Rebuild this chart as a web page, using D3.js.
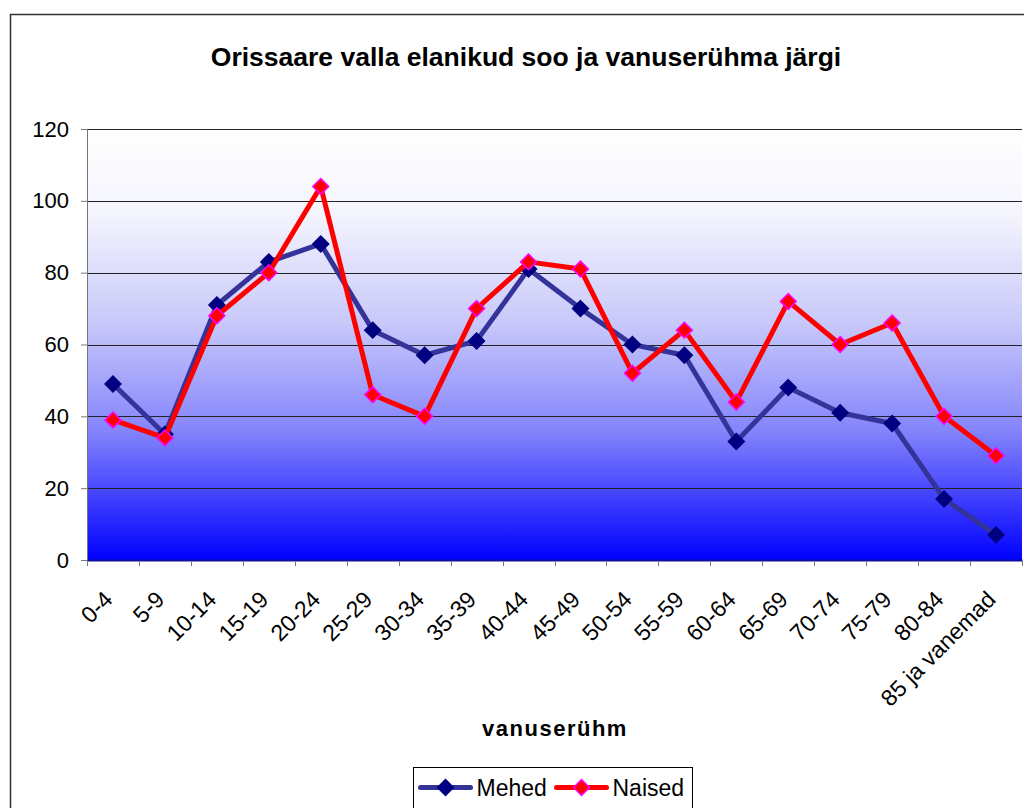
<!DOCTYPE html>
<html lang="et">
<head>
  <meta charset="UTF-8">
  <title>Orissaare valla elanikud soo ja vanuserühma järgi</title>
  <script src="https://d3js.org/d3.v7.min.js"></script>
  <style>
    body {
      margin: 0;
      background: #fff;
      font-family: "Liberation Sans", Arial, sans-serif;
    }
    svg { display: block; }
  </style>
</head>
<body>
<svg width="1024" height="808"></svg>
<script>
const ageGroups = ["0-4", "5-9", "10-14", "15-19", "20-24", "25-29", "30-34", "35-39", "40-44",
                   "45-49", "50-54", "55-59", "60-64", "65-69", "70-74", "75-79", "80-84", "85 ja vanemad"];
const mehed  = [49, 35, 71, 83, 88, 64, 57, 61, 81, 70, 60, 57, 33, 48, 41, 38, 17, 7];
const naised = [39, 34, 68, 80, 104, 46, 40, 70, 83, 81, 52, 64, 44, 72, 60, 66, 40, 29];
const yTicks = [0, 20, 40, 60, 80, 100, 120];

const series = [
  {name: "Mehed", values: mehed, line: "#333399", fill: "#000080", stroke: "#000080"},
  {name: "Naised", values: naised, line: "#ff0000", fill: "#ff0000", stroke: "#ff00ff"}
];

const svg = d3.select("svg"),
      margin = {top: 129, right: 2, bottom: 248, left: 87},
      width = +svg.attr("width") - margin.left - margin.right,
      height = +svg.attr("height") - margin.top - margin.bottom;

// outer chart frame
svg.append("rect")
  .attr("x", 10.5).attr("y", 14.5)
  .attr("width", 1030).attr("height", 810)
  .attr("fill", "#fff")
  .attr("stroke", "#333").attr("stroke-width", 1.5);

svg.append("text")
  .attr("x", 526).attr("y", 66)
  .attr("text-anchor", "middle")
  .attr("font-size", 26.5).attr("font-weight", "bold")
  .text("Orissaare valla elanikud soo ja vanuserühma järgi");

const defs = svg.append("defs");
const grad = defs.append("linearGradient")
  .attr("id", "bg").attr("x1", 0).attr("y1", 0).attr("x2", 0).attr("y2", 1);
[[0, "#ffffff"], [0.2, "#f4f4fe"], [0.45, "#c8c8fa"], [0.7, "#8484fc"], [1, "#0000ff"]]
  .forEach(s => grad.append("stop").attr("offset", s[0]).attr("stop-color", s[1]));

const g = svg.append("g").attr("transform", `translate(${margin.left},${margin.top})`);

const x = d3.scaleBand().domain(ageGroups).range([0, width]);
const y = d3.scaleLinear().domain([0, 120]).range([height, 0]);

g.append("rect")
  .attr("width", width).attr("height", height)
  .attr("fill", "url(#bg)");

// gridlines
g.append("g")
  .selectAll("line")
  .data(yTicks.filter(d => d > 0))
  .enter().append("line")
  .attr("x1", 0).attr("x2", width)
  .attr("y1", d => Math.round(y(d)) + 0.5).attr("y2", d => Math.round(y(d)) + 0.5)
  .attr("stroke", "#222").attr("stroke-width", 1);

// y axis
const yAxis = g.append("g")
  .call(d3.axisLeft(y).tickValues(yTicks).tickSize(6).tickPadding(12));
yAxis.select(".domain").attr("stroke", "#777");
yAxis.selectAll(".tick line").attr("stroke", "#777");
yAxis.selectAll("text")
  .attr("font-family", "Liberation Sans, Arial, sans-serif")
  .attr("font-size", 22).attr("fill", "#000");

// x axis
const xAxis = g.append("g")
  .attr("transform", `translate(0,${height})`)
  .call(d3.axisBottom(x).tickSize(0).tickFormat(""));
xAxis.select(".domain").attr("stroke", "#1010a0").attr("stroke-width", 2);
g.append("g")
  .selectAll("line")
  .data(d3.range(ageGroups.length + 1))
  .enter().append("line")
  .attr("x1", i => Math.round(i * x.bandwidth()) + 0.5)
  .attr("x2", i => Math.round(i * x.bandwidth()) + 0.5)
  .attr("y1", height + 1).attr("y2", height + 6)
  .attr("stroke", "#777");

g.append("g")
  .selectAll("text")
  .data(ageGroups)
  .enter().append("text")
  .attr("transform", d => `translate(${x(d) + x.bandwidth() / 2 + 1},${height + 41}) rotate(-45)`)
  .attr("text-anchor", "end")
  .attr("font-size", 23)
  .text(d => d);

svg.append("text")
  .attr("x", 555).attr("y", 736)
  .attr("text-anchor", "middle")
  .attr("font-size", 22).attr("font-weight", "bold")
  .attr("letter-spacing", 1.5)
  .text("vanuserühm");

// lines and markers
const line = d3.line()
  .x((d, i) => x(ageGroups[i]) + x.bandwidth() / 2)
  .y(d => y(d));

const diamond = d3.symbol().type(d3.symbolDiamond2).size(160);

series.forEach(s => {
  g.append("path")
    .datum(s.values)
    .attr("fill", "none")
    .attr("stroke", s.line)
    .attr("stroke-width", 5)
    .attr("stroke-linejoin", "round")
    .attr("d", line);

  g.append("g")
    .selectAll("path")
    .data(s.values)
    .enter().append("path")
    .attr("transform", (d, i) => `translate(${x(ageGroups[i]) + x.bandwidth() / 2},${y(d)})`)
    .attr("d", diamond)
    .attr("fill", s.fill)
    .attr("stroke", s.stroke)
    .attr("stroke-width", 1.5);
});

// legend
const legend = svg.append("g").attr("transform", "translate(413.5,767.5)");
legend.append("rect")
  .attr("width", 279).attr("height", 42)
  .attr("fill", "#fff").attr("stroke", "#000").attr("stroke-width", 1);

series.forEach((s, i) => {
  const item = legend.append("g").attr("transform", `translate(8,20)`);
  item.attr("transform", `translate(${7 + i * 136},20)`);
  item.append("line")
    .attr("x1", 0).attr("x2", 50)
    .attr("stroke", s.line).attr("stroke-width", 5).attr("stroke-linecap", "round");
  item.append("path")
    .attr("transform", "translate(25,0)")
    .attr("d", diamond)
    .attr("fill", s.fill).attr("stroke", s.stroke).attr("stroke-width", 1.5);
  item.append("text")
    .attr("x", 56).attr("y", 8)
    .attr("font-size", 23)
    .text(s.name);
});
</script>
</body>
</html>
